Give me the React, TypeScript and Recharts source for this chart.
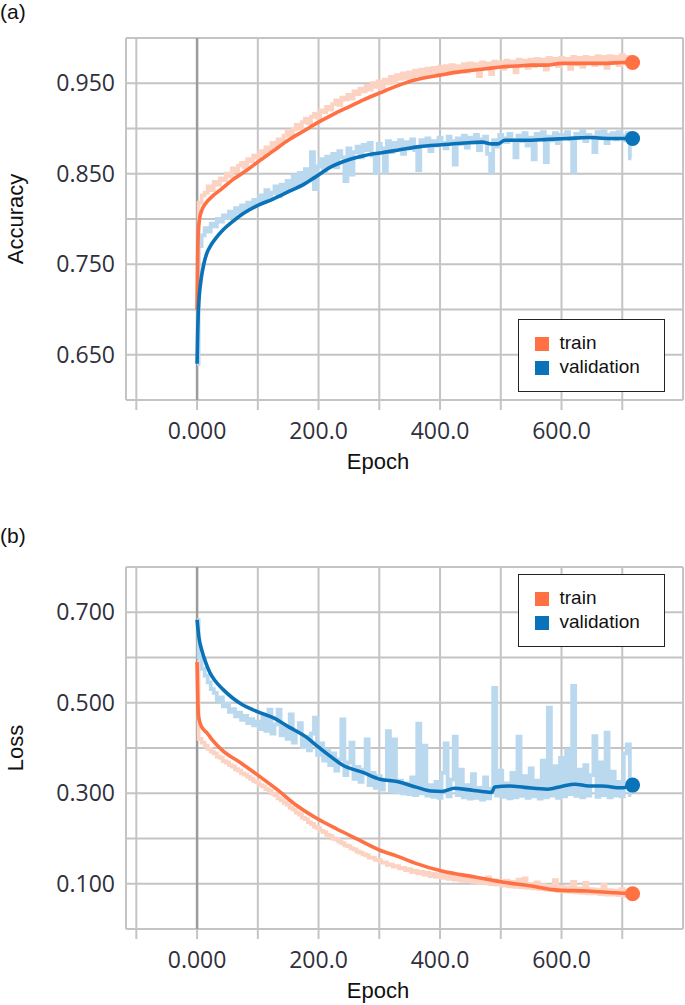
import React from 'react';
import { LineChart, Line, XAxis, YAxis, CartesianGrid, ReferenceLine } from 'recharts';

// raw (unsmoothed) curves are sampled every 5 epochs
const RAW_STEP = 5;

const xTicks = [-100, 0, 100, 200, 300, 400, 500, 600, 700];
const xTickLabels: Record<number, string> = { 0: '0.000', 200: '200.0', 400: '400.0', 600: '600.0' };

const accTicks = [0.6, 0.65, 0.7, 0.75, 0.8, 0.85, 0.9, 0.95, 1.0];
const accTickLabels: Record<string, string> = { '0.65': '0.650', '0.75': '0.750', '0.85': '0.850', '0.95': '0.950' };
const lossTicks = [0, 0.1, 0.2, 0.3, 0.4, 0.5, 0.6, 0.7, 0.8];
const lossTickLabels: Record<string, string> = { '0.1': '0.100', '0.3': '0.300', '0.5': '0.500', '0.7': '0.700' };

// ---- accuracy ----
const accTrainRaw = [
  0.700, 0.818, 0.826, 0.829, 0.836, 0.832, 0.841, 0.838, 0.845, 0.843,
  0.850, 0.847, 0.856, 0.853, 0.859, 0.862, 0.857, 0.866, 0.864, 0.870,
  0.868, 0.875, 0.872, 0.879, 0.876, 0.884, 0.881, 0.888, 0.885, 0.892,
  0.897, 0.893, 0.899, 0.904, 0.900, 0.907, 0.911, 0.906, 0.913, 0.916,
  0.912, 0.920, 0.918, 0.924, 0.921, 0.927, 0.931, 0.926, 0.934, 0.932,
  0.937, 0.933, 0.941, 0.938, 0.944, 0.941, 0.947, 0.943, 0.950, 0.946,
  0.952, 0.945, 0.954, 0.950, 0.957, 0.951, 0.959, 0.955, 0.961, 0.956,
  0.962, 0.957, 0.964, 0.959, 0.965, 0.958, 0.966, 0.961, 0.967, 0.962,
  0.968, 0.960, 0.969, 0.964, 0.970, 0.962, 0.969, 0.965, 0.971, 0.963,
  0.972, 0.966, 0.971, 0.958, 0.973, 0.967, 0.972, 0.960, 0.974, 0.968,
  0.973, 0.966, 0.975, 0.969, 0.974, 0.962, 0.976, 0.970, 0.975, 0.967,
  0.976, 0.969, 0.977, 0.971, 0.976, 0.965, 0.978, 0.972, 0.977, 0.969,
  0.978, 0.973, 0.977, 0.966, 0.979, 0.971, 0.978, 0.968, 0.979, 0.973,
  0.978, 0.970, 0.980, 0.972, 0.979, 0.967, 0.980, 0.973, 0.979, 0.970,
  0.981, 0.972, 0.979, 0.970,
];
const accValRaw = [
  0.640, 0.770, 0.782, 0.790, 0.786, 0.795, 0.792, 0.800, 0.797, 0.804,
  0.801, 0.808, 0.803, 0.812, 0.807, 0.815, 0.809, 0.818, 0.813, 0.821,
  0.817, 0.826, 0.819, 0.832, 0.822, 0.829, 0.836, 0.825, 0.838, 0.831,
  0.842, 0.834, 0.848, 0.838, 0.851, 0.840, 0.855, 0.843, 0.874, 0.833,
  0.858, 0.866, 0.852, 0.869, 0.860, 0.872, 0.857, 0.875, 0.868, 0.842,
  0.878, 0.849, 0.874, 0.880, 0.868, 0.882, 0.876, 0.884, 0.870, 0.851,
  0.883, 0.878, 0.852, 0.886, 0.874, 0.884, 0.879, 0.887, 0.872, 0.885,
  0.880, 0.888, 0.876, 0.854, 0.887, 0.882, 0.889, 0.875, 0.886, 0.881,
  0.890, 0.884, 0.878, 0.891, 0.886, 0.860, 0.889, 0.883, 0.892, 0.879,
  0.890, 0.885, 0.893, 0.876, 0.888, 0.891, 0.872, 0.852, 0.887, 0.880,
  0.893, 0.889, 0.885, 0.894, 0.887, 0.868, 0.892, 0.886, 0.895, 0.881,
  0.890, 0.866, 0.894, 0.888, 0.896, 0.863, 0.891, 0.887, 0.895, 0.884,
  0.893, 0.889, 0.896, 0.888, 0.852, 0.894, 0.890, 0.897, 0.886, 0.893,
  0.891, 0.874, 0.896, 0.889, 0.897, 0.884, 0.893, 0.895, 0.888, 0.896,
  0.892, 0.887, 0.895, 0.867,
];
const accTrainSmoothEpochs = [0, 1, 2, 4, 8, 15, 25, 40, 60, 80, 100, 125, 150, 175, 200, 225, 250, 275, 300, 325, 350, 375, 400, 425, 450, 475, 500, 525, 550, 575, 600, 625, 650, 675, 700, 717];
const accTrainSmooth = [0.700, 0.760, 0.785, 0.800, 0.810, 0.818, 0.825, 0.833, 0.844, 0.853, 0.863, 0.875, 0.887, 0.897, 0.907, 0.916, 0.924, 0.932, 0.939, 0.946, 0.952, 0.956, 0.959, 0.962, 0.964, 0.966, 0.968, 0.969, 0.970, 0.970, 0.972, 0.972, 0.972, 0.972, 0.973, 0.973];
const accValSmoothEpochs = [0, 1, 2, 4, 7, 11, 16, 21, 30, 43, 60, 76, 100, 125, 153, 175, 194, 219, 252, 275, 301, 330, 367, 403, 440, 469, 485, 495, 507, 540, 577, 610, 643, 680, 717];
const accValSmooth = [0.640, 0.675, 0.697, 0.718, 0.735, 0.750, 0.762, 0.769, 0.778, 0.788, 0.798, 0.806, 0.815, 0.822, 0.831, 0.838, 0.846, 0.857, 0.866, 0.870, 0.873, 0.876, 0.880, 0.882, 0.884, 0.885, 0.883, 0.883, 0.887, 0.887, 0.888, 0.889, 0.890, 0.889, 0.889];

// ---- loss ----
const lossTrainRaw = [
  0.590, 0.420, 0.412, 0.405, 0.398, 0.392, 0.388, 0.381, 0.378, 0.371,
  0.368, 0.362, 0.359, 0.353, 0.350, 0.344, 0.341, 0.336, 0.332, 0.327,
  0.324, 0.318, 0.315, 0.309, 0.305, 0.299, 0.296, 0.289, 0.285, 0.279,
  0.275, 0.268, 0.264, 0.257, 0.253, 0.246, 0.243, 0.236, 0.232, 0.226,
  0.223, 0.217, 0.214, 0.208, 0.206, 0.200, 0.198, 0.193, 0.190, 0.185,
  0.183, 0.178, 0.176, 0.171, 0.169, 0.165, 0.163, 0.158, 0.157, 0.153,
  0.152, 0.147, 0.147, 0.142, 0.143, 0.138, 0.139, 0.134, 0.135, 0.130,
  0.132, 0.126, 0.129, 0.123, 0.126, 0.120, 0.124, 0.117, 0.122, 0.115,
  0.120, 0.113, 0.119, 0.111, 0.117, 0.109, 0.118, 0.107, 0.114, 0.106,
  0.113, 0.104, 0.112, 0.102, 0.110, 0.101, 0.114, 0.099, 0.108, 0.098,
  0.106, 0.096, 0.107, 0.094, 0.104, 0.093, 0.109, 0.092, 0.112, 0.091,
  0.099, 0.090, 0.103, 0.088, 0.097, 0.087, 0.095, 0.086, 0.108, 0.084,
  0.093, 0.083, 0.092, 0.082, 0.104, 0.081, 0.090, 0.080, 0.102, 0.079,
  0.088, 0.079, 0.087, 0.077, 0.098, 0.076, 0.086, 0.076, 0.085, 0.075,
  0.088, 0.074, 0.084, 0.075,
];
const lossValRaw = [
  0.683, 0.600, 0.575, 0.560, 0.545, 0.530, 0.522, 0.505, 0.512, 0.492,
  0.498, 0.480, 0.486, 0.470, 0.478, 0.462, 0.471, 0.455, 0.464, 0.450,
  0.458, 0.442, 0.470, 0.438, 0.485, 0.432, 0.452, 0.485, 0.428, 0.445,
  0.420, 0.474, 0.412, 0.438, 0.455, 0.402, 0.425, 0.395, 0.432, 0.467,
  0.385, 0.410, 0.372, 0.395, 0.362, 0.388, 0.350, 0.375, 0.463, 0.340,
  0.368, 0.412, 0.332, 0.358, 0.325, 0.352, 0.419, 0.318, 0.345, 0.312,
  0.338, 0.308, 0.330, 0.437, 0.305, 0.419, 0.302, 0.328, 0.300, 0.322,
  0.298, 0.335, 0.296, 0.454, 0.300, 0.405, 0.295, 0.318, 0.292, 0.325,
  0.290, 0.345, 0.410, 0.293, 0.330, 0.425, 0.296, 0.352, 0.291, 0.318,
  0.288, 0.342, 0.290, 0.312, 0.286, 0.335, 0.289, 0.310, 0.533, 0.295,
  0.350, 0.292, 0.322, 0.289, 0.345, 0.291, 0.425, 0.294, 0.338, 0.290,
  0.355, 0.293, 0.328, 0.288, 0.372, 0.291, 0.489, 0.295, 0.360, 0.290,
  0.378, 0.293, 0.395, 0.298, 0.537, 0.294, 0.352, 0.291, 0.362, 0.295,
  0.340, 0.426, 0.292, 0.368, 0.296, 0.434, 0.291, 0.348, 0.295, 0.325,
  0.293, 0.388, 0.408, 0.296,
];
const lossTrainSmoothEpochs = [0, 1, 2, 5, 10, 16, 25, 43, 71, 100, 131, 164, 199, 230, 263, 301, 329, 360, 403, 457, 502, 551, 594, 643, 688, 717];
const lossTrainSmooth = [0.590, 0.520, 0.475, 0.455, 0.442, 0.434, 0.418, 0.393, 0.368, 0.340, 0.309, 0.273, 0.243, 0.221, 0.199, 0.174, 0.161, 0.145, 0.128, 0.115, 0.104, 0.095, 0.086, 0.084, 0.080, 0.078];
const lossValSmoothEpochs = [0, 3, 8, 14, 21, 30, 43, 58, 74, 100, 125, 153, 181, 199, 219, 240, 273, 301, 329, 362, 385, 403, 424, 445, 469, 485, 490, 515, 539, 577, 600, 622, 645, 666, 699, 717];
const lossValSmooth = [0.683, 0.645, 0.615, 0.590, 0.567, 0.548, 0.529, 0.511, 0.496, 0.480, 0.467, 0.445, 0.423, 0.403, 0.382, 0.362, 0.346, 0.331, 0.326, 0.313, 0.305, 0.304, 0.311, 0.308, 0.304, 0.302, 0.314, 0.316, 0.313, 0.309, 0.315, 0.320, 0.316, 0.316, 0.312, 0.318];

const seriesNames = ['train', 'validation'];

const ORANGE = '#ff7043';
const BLUE = '#0a72b8';
const ORANGE_LIGHT = '#fcd3c3';
const BLUE_LIGHT = '#bad9ee';
const GRID = '#c4c4c4';
const TICK_COLOR = '#30303d';
const TICK_FONT = '"Open Sans", sans-serif';
const LABEL_FONT = '"Liberation Sans", Arial, sans-serif';

const toRaw = (vals: number[]) => vals.map((v, i) => ({ epoch: i * RAW_STEP, value: v }));
const toPts = (epochs: number[], vals: number[]) => epochs.map((e, i) => ({ epoch: e, value: vals[i] }));

const endDot = (color: string, count: number) => (props: any) => {
  const { cx, cy, index } = props;
  if (index !== count - 1) return <g key={`d${index}`} />;
  return <circle key={`d${index}`} cx={cx} cy={cy} r={7.5} fill={color} stroke="none" />;
};

interface PanelProps {
  tag: string;
  yLabel: string;
  yDomain: [number, number];
  yTicks: number[];
  yTickLabels: Record<string, string>;
  trainRaw: number[];
  valRaw: number[];
  trainSmooth: { epoch: number; value: number }[];
  valSmooth: { epoch: number; value: number }[];
  legendTop: number;
  tagTop: number;
  top: number;
}

const Panel: React.FC<PanelProps> = (p) => {
  return (
    <div style={{ position: 'absolute', left: 0, top: p.top, width: 685, height: 476 }}>
      <LineChart width={685} height={476} margin={{ top: 38, right: 2, bottom: 0, left: 0 }}>
        <CartesianGrid stroke={GRID} strokeWidth={2} />
        <XAxis
          type="number"
          dataKey="epoch"
          domain={[-117, 800]}
          ticks={xTicks}
          interval={0}
          allowDataOverflow
          axisLine={false}
          tickLine={{ stroke: GRID, strokeWidth: 2 }}
          tickSize={10}
          tickMargin={13}
          height={76}
          tick={{ fill: TICK_COLOR, fontSize: 23, fontFamily: TICK_FONT }}
          tickFormatter={(v: number) => xTickLabels[v] ?? ''}
        />
        <YAxis
          type="number"
          domain={p.yDomain}
          ticks={p.yTicks}
          interval={0}
          allowDataOverflow
          axisLine={false}
          tickLine={false}
          tickSize={0}
          tickMargin={11}
          width={126}
          tick={{ fill: TICK_COLOR, fontSize: 23, fontFamily: TICK_FONT }}
          tickFormatter={(v: number) => p.yTickLabels[String(Math.round(v * 100) / 100)] ?? ''}
          label={{
            value: p.yLabel,
            angle: -90,
            position: 'insideLeft',
            offset: 15,
            fill: '#111',
            fontSize: 22,
            fontFamily: LABEL_FONT,
            style: { textAnchor: 'middle' },
          }}
        />
        <ReferenceLine x={0} stroke="#9c9c9c" strokeWidth={2.5} />
        <Line data={toRaw(p.trainRaw)} dataKey="value" type="step" stroke={ORANGE_LIGHT} strokeWidth={3.8} dot={false} activeDot={false} isAnimationActive={false} />
        <Line data={toRaw(p.valRaw)} dataKey="value" type="step" stroke={BLUE_LIGHT} strokeWidth={3.8} dot={false} activeDot={false} isAnimationActive={false} />
        <Line data={p.trainSmooth} dataKey="value" type="monotone" stroke={ORANGE} strokeWidth={3.6} dot={endDot(ORANGE, p.trainSmooth.length)} activeDot={false} isAnimationActive={false} />
        <Line data={p.valSmooth} dataKey="value" type="monotone" stroke={BLUE} strokeWidth={3.6} dot={endDot(BLUE, p.valSmooth.length)} activeDot={false} isAnimationActive={false} />
      </LineChart>

      {/* panel tag, x-axis title */}
      <div style={{ position: 'absolute', left: 0, top: p.tagTop, fontFamily: LABEL_FONT, fontSize: 21, lineHeight: '24px', color: '#111' }}>{p.tag}</div>
      <div style={{ position: 'absolute', left: 278, width: 200, top: 451, textAlign: 'center', fontFamily: LABEL_FONT, fontSize: 22, lineHeight: '22px', color: '#111' }}>Epoch</div>

      {/* legend */}
      <div style={{ position: 'absolute', left: 518, top: p.legendTop, width: 147, height: 73, boxSizing: 'border-box', border: '1.5px solid #222', background: '#fff', fontFamily: LABEL_FONT, fontSize: 19, color: '#111' }}>
        {seriesNames.map((name, i) => (
          <React.Fragment key={name}>
            <div style={{ position: 'absolute', left: 15.5, top: 16.5 + i * 24, width: 14, height: 14, background: i === 0 ? ORANGE : BLUE }} />
            <div style={{ position: 'absolute', left: 40.5, top: 12.5 + i * 24.5, lineHeight: '19px', whiteSpace: 'nowrap' }}>{name}</div>
          </React.Fragment>
        ))}
      </div>
    </div>
  );
};

export default function App() {
  return (
    <div style={{ position: 'absolute', left: 0, top: 0, width: 685, height: 1005, background: '#fff', overflow: 'hidden' }}>
      <Panel
        tag="(a)"
        yLabel="Accuracy"
        yDomain={[0.6, 1.0]}
        yTicks={accTicks}
        yTickLabels={accTickLabels}
        trainRaw={accTrainRaw}
        valRaw={accValRaw}
        trainSmooth={toPts(accTrainSmoothEpochs, accTrainSmooth)}
        valSmooth={toPts(accValSmoothEpochs, accValSmooth)}
        legendTop={319}
        tagTop={0}
        top={0}
      />
      <Panel
        tag="(b)"
        yLabel="Loss"
        yDomain={[0, 0.8]}
        yTicks={lossTicks}
        yTickLabels={lossTickLabels}
        trainRaw={lossTrainRaw}
        valRaw={lossValRaw}
        trainSmooth={toPts(lossTrainSmoothEpochs, lossTrainSmooth)}
        valSmooth={toPts(lossValSmoothEpochs, lossValSmooth)}
        legendTop={45}
        tagTop={-5}
        top={529}
      />
    </div>
  );
}
